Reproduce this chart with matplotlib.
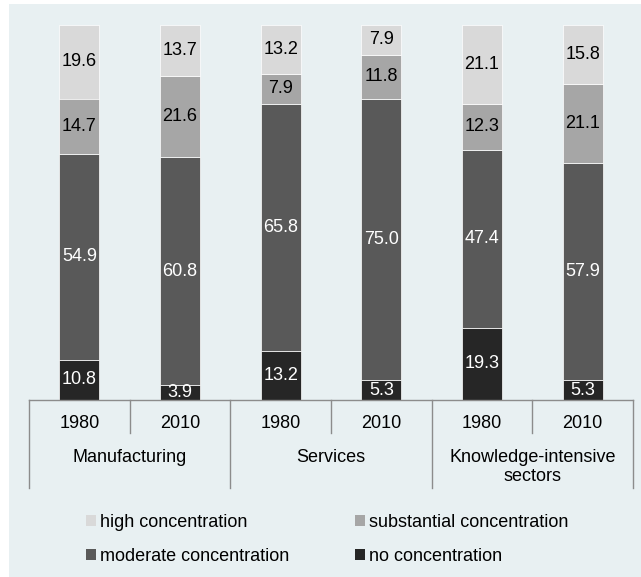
import numpy as np
import matplotlib
matplotlib.use('Agg')
import matplotlib.pyplot as plt
from matplotlib.patches import Rectangle, Patch
import matplotlib.transforms as mtrans

plt.rcParams['font.family'] = ['Liberation Sans', 'DejaVu Sans']

years = ['1980', '2010', '1980', '2010', '1980', '2010']
groups = ['Manufacturing', 'Services', 'Knowledge-intensive\nsectors']

# stacked bottom -> top
no_conc = [10.8, 3.9, 13.2, 5.3, 19.3, 5.3]
moderate = [54.9, 60.8, 65.8, 75.0, 47.4, 57.9]
substantial = [14.7, 21.6, 7.9, 11.8, 12.3, 21.1]
high = [19.6, 13.7, 13.2, 7.9, 21.1, 15.8]

series = [
    ('no concentration', no_conc, '#262626', 'white'),
    ('moderate concentration', moderate, '#595959', 'white'),
    ('substantial concentration', substantial, '#a6a6a6', 'black'),
    ('high concentration', high, '#d9d9d9', 'black'),
]

fs = 13
W, H = 641, 577
fig = plt.figure(figsize=(W / 100.0, H / 100.0), dpi=100)
fig.patches.append(Rectangle((9.0 / W, 0), 1, 1 - 4.0 / H, transform=fig.transFigure,
                             facecolor='#e8f0f2', edgecolor='none', zorder=-10))

ax = fig.add_axes([29.0 / W, 1 - 400.0 / H, (633.0 - 29.0) / W, 375.0 / H])
x = np.arange(len(years))
bottom = np.zeros(len(years))
handles = {}
for name, vals, col, tcol in series:
    vals = np.array(vals)
    bars = ax.bar(x, vals, 0.4, bottom=bottom, color=col, edgecolor='white', linewidth=0.5)
    handles[name] = Patch(facecolor=col, edgecolor='none')
    for xi, b, v in zip(x, bottom, vals):
        ax.text(xi, b + v / 2.0, '%.1f' % v, ha='center', va='center', color=tcol, fontsize=fs)
    bottom = bottom + vals

ax.set_xlim(-0.5, 5.5)
ax.set_ylim(0, 100)
ax.axis('off')

# category axis
tr = mtrans.blended_transform_factory(ax.transData, ax.transAxes)
lc = '#8c8c8c'
ax.plot([-0.5, 5.5], [0, 0], color=lc, lw=1, transform=tr, clip_on=False)
for sx in [-0.5, 1.5, 3.5, 5.5]:
    ax.plot([sx, sx], [0, -0.235], color=lc, lw=1, transform=tr, clip_on=False)
for sx in [0.5, 2.5, 4.5]:
    ax.plot([sx, sx], [0, -0.088], color=lc, lw=1, transform=tr, clip_on=False)
for xi, y in zip(x, years):
    ax.text(xi, -0.064, y, ha='center', va='center', fontsize=fs, transform=tr)
for gi, g in enumerate(groups):
    ax.text(2 * gi + 0.5, -0.13, g, ha='center', va='top', fontsize=fs,
            transform=tr, linespacing=1.2)

order = ['high concentration', 'moderate concentration',
         'substantial concentration', 'no concentration']
fig.legend([handles[n] for n in order], order, ncol=2, loc='upper left',
           bbox_to_anchor=(86.0 / W, 1 - 514.0 / H), frameon=False, fontsize=fs,
           handlelength=0.55, handleheight=0.55, handletextpad=0.25,
           columnspacing=3.6, labelspacing=0.92, borderpad=0, borderaxespad=0)

fig.savefig('out.png', dpi=100)
